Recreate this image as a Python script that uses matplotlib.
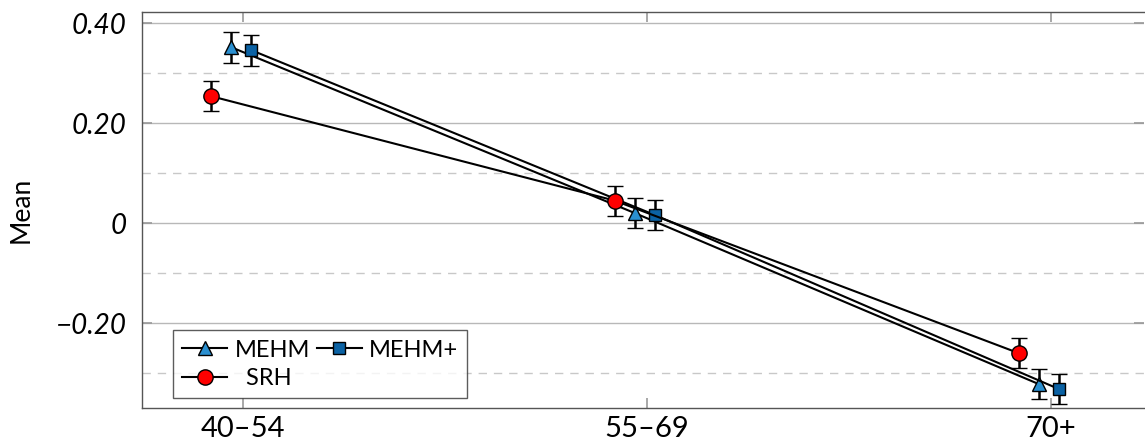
import matplotlib
matplotlib.use("Agg")
import matplotlib.pyplot as plt
from matplotlib.lines import Line2D
from matplotlib.ticker import FixedLocator, FuncFormatter
import numpy as np

plt.rcParams['font.family'] = ['Lato', 'DejaVu Sans']

#---------------------------data---------------------------#
groups = ["40\u201354", "55\u201369", "70+"]
mehm = [0.352, 0.020, -0.322]
mehm_err = [0.031, 0.030, 0.030]
mehm_plus = [0.346, 0.016, -0.332]
mehm_plus_err = [0.031, 0.030, 0.030]
srh = [0.254, 0.045, -0.260]
srh_err = [0.030, 0.030, 0.030]
#----------------------------------------------------------#

x = np.arange(len(groups))

fig = plt.figure(figsize=(11.45, 4.47), dpi=100)
ax = fig.add_axes([0.124, 0.087, 0.875, 0.886])

# grid
for yv in [0.4, 0.2, 0.0, -0.2]:
    ax.axhline(yv, color='#b8b8b8', lw=1.0, zorder=0)
for yv in [0.3, 0.1, -0.1, -0.3]:
    ax.axhline(yv, color='#c8c8c8', lw=1.0, ls=(0, (6, 5)), zorder=0)

common = dict(color='black', lw=1.5, elinewidth=1.8, capsize=5.5, capthick=1.8,
              markeredgecolor='black', markeredgewidth=1.0, zorder=3)

styles = {
    'MEHM': dict(marker='^', ms=10.5, markerfacecolor='#2a8fd0'),
    'MEHM+': dict(marker='s', ms=9, markerfacecolor='#0b62a4'),
    'SRH': dict(marker='o', ms=11, markerfacecolor='#ff0000'),
}

ax.errorbar(x - 0.03, mehm, yerr=mehm_err, **styles['MEHM'], **common)
ax.errorbar(x + 0.02, mehm_plus, yerr=mehm_plus_err, **styles['MEHM+'], **common)
ax.errorbar(x - 0.08, srh, yerr=srh_err, **styles['SRH'], **common)

ax.set_xlim(-0.25, 2.23)
ax.set_ylim(-0.37, 0.422)
ax.set_xticks(x)
ax.set_xticklabels(groups, fontsize=21)
ax.yaxis.set_major_locator(FixedLocator([-0.2, 0.0, 0.2, 0.4]))
ax.yaxis.set_minor_locator(FixedLocator([-0.3, -0.1, 0.1, 0.3]))

def yfmt(v, pos):
    if abs(v) < 1e-9:
        return "0"
    s = "%.2f" % abs(v)
    return ("\u2212" if v < 0 else "") + s

ax.yaxis.set_major_formatter(FuncFormatter(yfmt))
for lab in ax.get_yticklabels():
    lab.set_fontstyle('italic')
    lab.set_fontsize(20)
ax.set_ylabel("Mean", fontsize=19, labelpad=16)

ax.tick_params(axis='both', which='both', direction='in', color='#999999',
               top=True, right=True, length=7, width=1.2)
ax.tick_params(axis='x', pad=6)
ax.tick_params(axis='y', pad=11)
ax.tick_params(axis='y', which='minor', length=0)
for sp in ax.spines.values():
    sp.set_color('#555555')
    sp.set_linewidth(1.0)
ax.spines['right'].set_visible(False)

# legend handles row-wise: MEHM, MEHM+ / SRH
h = {k: Line2D([], [], color='black', lw=1.5, markeredgecolor='black',
               markeredgewidth=1.0, **v) for k, v in styles.items()}
handles = [h['MEHM'], h['SRH'], h['MEHM+']]
labels = ['MEHM', '  SRH', 'MEHM+']
leg = ax.legend(handles, labels, loc='lower left', bbox_to_anchor=(0.031, 0.025),
                borderaxespad=0, ncol=2, fontsize=17, frameon=True, fancybox=False,
                edgecolor='#333333', handlelength=1.9, handletextpad=0.3,
                columnspacing=0.3, borderpad=0.4, labelspacing=0.3)
leg.get_frame().set_linewidth(1.0)

fig.savefig("out.png", dpi=100)
